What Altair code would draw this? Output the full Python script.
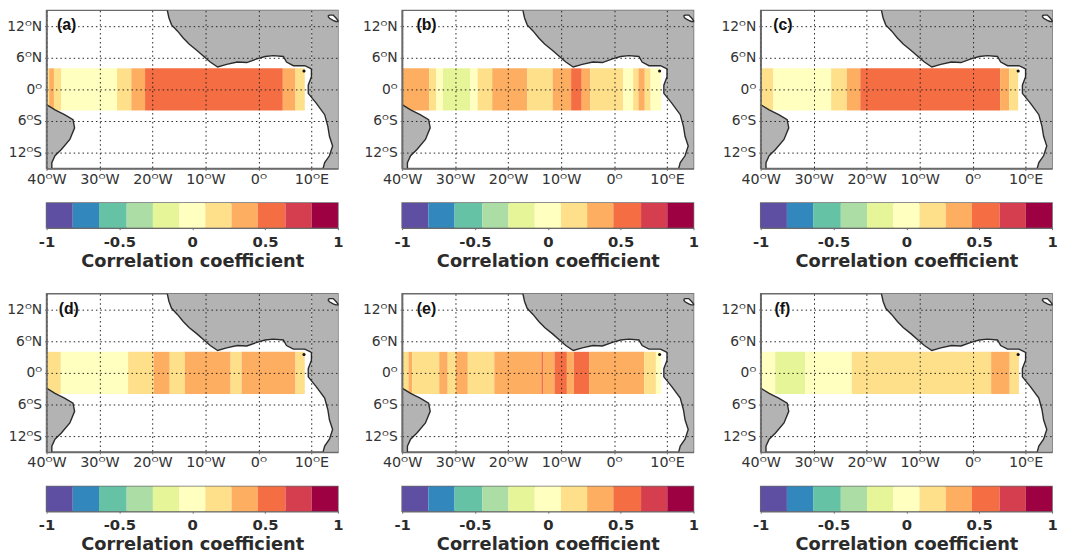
import altair as alt
import pandas as pd

# colour classes
CLASSES = [-5, -4, -3, -2, -1, 0, 1, 2, 3, 4, 5]
COLORS = ["#5e4fa2", "#3288bd", "#66c2a5", "#abdda4", "#e6f598", "#ffffbf",
          "#fee08b", "#fdae61", "#f46d43", "#d53e4f", "#9e0142"]
BAR_EDGES = [-1, -0.82, -0.64, -0.45, -0.27, -0.09, 0.09, 0.27, 0.45, 0.64, 0.82, 1]
BAR_TICKS = [-1, -0.5, 0, 0.5, 1]
X_TICKS = [-40, -30, -20, -10, 0, 10]
Y_TICKS = [-12, -6, 0, 6, 12]
BAND_SOUTH, BAND_NORTH = -4, 4

LABELS = ["(a)", "(b)", "(c)", "(d)", "(e)", "(f)"]
LABEL_LON = [-36.2, -35.4, -35.8, -35.8, -35.4, -35.9]
LABEL_LAT = 12.2

EDGES = [
    [-40, -39.5, -38.6, -37.2, -26.7, -24, -21.4, 4.6, 7, 8.75],
    [-40, -34.9, -33.6, -32.3, -27.1, -25.75, -23, -16.4, -11.6, -8.1, -6.1, -4.5, 1.75, 3.6, 4.6, 5.8, 6.9, 8.9],
    [-40, -37.6, -26.7, -23.75, -21.2, 5.2, 6.9, 8.6],
    [-40, -37.3, -24.6, -19.75, -16.75, -13.9, -5.25, -3.2, 7, 8.75],
    [-40, -38.8, -38.1, -33, -31.4, -29.9, -27.6, -22.6, -13.7, -13.4, -11.25, -8.9, -7.6, -4.7, 5.7, 7.9, 8.9],
    [-40, -37.25, -31.6, -22.8, 3.5, 7, 8.75],
]
VALUES = [
    [1, 2, 1, 0, 1, 2, 3, 2, 1],
    [2, 1, 0, -1, 0, 1, 2, 1, 2, 3, 2, 1, 0, 1, 2, 1, 0],
    [1, 0, 1, 2, 3, 2, 1],
    [1, 0, 1, 2, 1, 2, 1, 2, 1],
    [1, 2, 1, 2, 1, 2, 1, 2, 3, 2, 3, 2, 3, 2, 1, 0],
    [0, -1, 0, 1, 2, 1],
]

# coast of Africa, Gulf of Guinea part (land lies to the north)
GUINEA_LON = [-17.2, -16.9, -16.4, -15.3, -14.2, -13.1, -11.6, -10.3, -9.1, -7.7, -6, -4, -2.2, -0.3, 1.25, 2.8, 4.7, 5.3, 6.6, 8.75, 10]
GUINEA_LAT = [15, 13.6, 12.25, 11.1, 9.75, 8.6, 7.4, 6.25, 5.2, 4.25, 4.75, 5.2, 5.1, 5.8, 6.25, 6.4, 6.25, 5.2, 4.5, 4.5, 3.9]
# coast of Africa, southern part (land lies to the east)
SOUTH_LON = [10, 10, 9.4, 9.4, 10.9, 12.5, 13.1, 13.4, 14, 13.4, 12.5, 12.2]
SOUTH_LAT = [3.9, 2.4, 0.8, -0.75, -2.6, -4.8, -7, -8.9, -10.75, -12.6, -13.9, -15]
# Brazil
BRAZIL_LON = [-40, -38.4, -36.6, -35, -34.7, -35.6, -37.2, -38.4, -39, -39]
BRAZIL_LAT = [-2.9, -3.9, -4.8, -5.75, -7.3, -9.5, -11.4, -12.6, -13.9, -15]
# lake
LAKE_LON = [13.1, 13.4, 14.1, 14.6, 15]
LAKE_TOP = [13.9, 14.1, 14.1, 13.6, 13.1]
LAKE_BOT = [13.9, 13.5, 13.1, 12.9, 12.9]
ISLAND_LON = [8.6]
ISLAND_LAT = [3.5]

FONT = "DejaVu Sans"
EDGE = "#6b6b6b"
W, H = 295, 160

lon_scale = alt.Scale(domain=[-40, 15], nice=False, zero=False)
lat_scale = alt.Scale(domain=[-15, 15], nice=False, zero=False)
x_label = "datum.value < 0 ? abs(datum.value) + 'ᴼW' : datum.value > 0 ? datum.value + 'ᴼE' : '0ᴼ'"
y_label = "datum.value < 0 ? abs(datum.value) + 'ᴼS' : datum.value > 0 ? datum.value + 'ᴼN' : '0ᴼ'"
x_axis = alt.Axis(values=X_TICKS, labelExpr=x_label, title=None, grid=True, gridDash=[1.5, 3], gridColor="#222",
                  gridWidth=1, gridOpacity=1, domainColor=EDGE, domainWidth=1.5, tickColor=EDGE, tickSize=2,
                  labelFont=FONT, labelFontSize=14.5, labelColor="#333", labelPadding=2, zindex=1, labelFlush=False)
y_axis = alt.Axis(values=Y_TICKS, labelExpr=y_label, title=None, grid=True, gridDash=[1.5, 3], gridColor="#222",
                  gridWidth=1, gridOpacity=1, domainColor=EDGE, domainWidth=1.5, tickColor=EDGE, tickSize=2,
                  labelFont=FONT, labelFontSize=14, labelColor="#333", labelPadding=3, zindex=1)
X = alt.X("lon:Q", scale=lon_scale, axis=x_axis)
Y = alt.Y("lat:Q", scale=lat_scale, axis=y_axis)

guinea = pd.DataFrame({"lon": GUINEA_LON, "lat": GUINEA_LAT, "top": [15] * len(GUINEA_LON)})
south = pd.DataFrame({"lon": [10] + SOUTH_LON, "lat": [15] + SOUTH_LAT, "east": [15] * (len(SOUTH_LON) + 1)})
brazil = pd.DataFrame({"lon": BRAZIL_LON, "lat": BRAZIL_LAT, "west": [-40] * len(BRAZIL_LON)})
lake = pd.DataFrame({"lon": LAKE_LON, "lat": LAKE_TOP, "low": LAKE_BOT})
LAND = "#b3b3b3"
COAST = "#2b2b2b"


def coast_line(lons, lats):
    df = pd.DataFrame({"lon": lons, "lat": lats, "i": range(len(lons))})
    return alt.Chart(df).mark_line(color=COAST, strokeWidth=1.4).encode(x=X, y=Y, order="i:Q")


def map_panel(k):
    stripes = pd.DataFrame({"lon": EDGES[k][:-1], "lon1": EDGES[k][1:], "cls": VALUES[k],
                            "lat": [BAND_SOUTH] * len(VALUES[k]), "lat1": [BAND_NORTH] * len(VALUES[k])})
    layers = [
        alt.Chart(stripes).mark_rect(strokeWidth=0).encode(
            x=X, x2="lon1:Q", y=Y, y2="lat1:Q",
            color=alt.Color("cls:O", scale=alt.Scale(domain=CLASSES, range=COLORS), legend=None)),
        alt.Chart(guinea).mark_area(color=LAND, opacity=1, orient="vertical").encode(x=X, y=Y, y2="top:Q"),
        alt.Chart(south).mark_area(color=LAND, opacity=1, orient="horizontal").encode(x=X, x2="east:Q", y=Y),
        alt.Chart(brazil).mark_area(color=LAND, opacity=1, orient="horizontal").encode(x=X, x2="west:Q", y=Y),
        alt.Chart(lake).mark_area(color="white", opacity=1, orient="vertical").encode(x=X, y=Y, y2="low:Q"),
        coast_line(GUINEA_LON, GUINEA_LAT),
        coast_line(SOUTH_LON, SOUTH_LAT),
        coast_line(BRAZIL_LON, BRAZIL_LAT),
        coast_line(LAKE_LON + LAKE_LON[::-1], LAKE_TOP + LAKE_BOT[::-1]),
        alt.Chart(pd.DataFrame({"lon": ISLAND_LON, "lat": ISLAND_LAT})).mark_point(
            filled=True, color="#111", size=10, opacity=1).encode(x=X, y=Y),
        alt.Chart(pd.DataFrame({"lon": [LABEL_LON[k]], "lat": [LABEL_LAT], "t": [LABELS[k]]})).mark_text(
            font="Liberation Sans", fontWeight="bold", fontSize=16, color="#111").encode(x=X, y=Y, text="t:N"),
    ]
    return alt.layer(*layers).properties(width=W, height=H)


def colorbar():
    df = pd.DataFrame({"v0": BAR_EDGES[:-1], "v1": BAR_EDGES[1:], "cls": CLASSES})
    return alt.Chart(df).mark_rect(strokeWidth=0).encode(
        x=alt.X("v0:Q", scale=alt.Scale(domain=[-1, 1], nice=False, zero=False),
                axis=alt.Axis(values=BAR_TICKS, labelExpr="datum.value + ''", title="Correlation coefficient",
                              grid=False, domainColor=EDGE, domainWidth=1.5, tickColor=EDGE, tickSize=2,
                              labelFont=FONT, labelFontSize=15, labelFontWeight="bold", labelColor="#2b2b2b",
                              labelPadding=5, labelFlush=False,
                              titleFont=FONT, titleFontSize=18, titleFontWeight="bold", titleColor="#2b2b2b",
                              titlePadding=3)),
        x2="v1:Q",
        color=alt.Color("cls:O", scale=alt.Scale(domain=CLASSES, range=COLORS), legend=None),
    ).properties(width=W, height=25)


def panel(k):
    return alt.vconcat(map_panel(k), colorbar(), spacing=15)


def row(k):
    return alt.hconcat(alt.hconcat(panel(k), panel(k + 1), spacing=18), panel(k + 2), spacing=21)


chart = alt.vconcat(row(0), row(3), spacing=19).configure_view(
    stroke=EDGE, strokeWidth=1.5
).properties(padding={"left": -2, "top": -5, "right": 0, "bottom": 0}, background="white")

chart.save("out.html", embed_options={"renderer": "svg", "actions": False})
